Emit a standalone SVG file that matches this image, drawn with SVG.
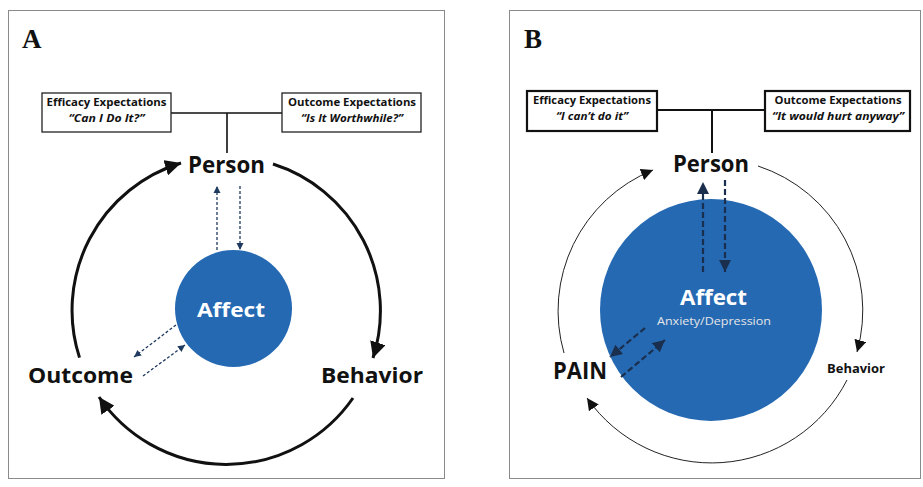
<svg xmlns="http://www.w3.org/2000/svg" width="923" height="487" viewBox="0 0 923 487">
<style>
.panel{fill:#fff;stroke:#8a8a8a;stroke-width:1}
.lbl{font-family:"Liberation Serif",serif;font-weight:bold;font-size:27px;fill:#111}
.box{fill:#fff;stroke:#222;stroke-width:1.3}
.boxB{fill:#fff;stroke:#111;stroke-width:2.2}
.bt{font-family:"Open Sans","Liberation Sans",sans-serif;font-weight:bold;font-size:10.5px;fill:#111;text-anchor:middle}
.bi{font-family:"Open Sans","Liberation Sans",sans-serif;font-weight:bold;font-style:italic;font-size:10.5px;fill:#111;text-anchor:middle}
.node{font-family:"Open Sans","Liberation Sans",sans-serif;font-weight:bold;fill:#111;text-anchor:middle}
.white{font-family:"Open Sans","Liberation Sans",sans-serif;font-weight:bold;fill:#fff;text-anchor:middle}
.link{stroke:#111;stroke-width:1.6;fill:none}
.arcA{stroke:#111;stroke-width:3;fill:none}
.arcB{stroke:#222;stroke-width:1;fill:none}
.dashA{stroke:#1f3a5f;stroke-width:1.3;stroke-dasharray:3 2;fill:none}
.dashB{stroke:#1a2f4d;stroke-width:2.2;stroke-dasharray:6 3;fill:none}
.affect{fill:#2569b3}
</style>
<defs>
<marker id="bigA" markerUnits="userSpaceOnUse" markerWidth="18" markerHeight="16" refX="16" refY="8" orient="auto"><path d="M0,0 L16,8 L0,16 Z" fill="#111"/></marker>
<marker id="bigB" markerUnits="userSpaceOnUse" markerWidth="14" markerHeight="12" refX="12" refY="6" orient="auto"><path d="M0,0 L12,6 L0,12 Z" fill="#111"/></marker>
<marker id="smA" markerUnits="userSpaceOnUse" markerWidth="8" markerHeight="8" refX="7" refY="4" orient="auto"><path d="M0,0.5 L7,4 L0,7.5 Z" fill="#1f3a5f"/></marker>
<marker id="smB" markerUnits="userSpaceOnUse" markerWidth="14" markerHeight="12" refX="12" refY="6" orient="auto"><path d="M0,0 L12,6 L0,12 Z" fill="#1a2f4d"/></marker>
</defs>

<rect class="panel" x="8.5" y="10.5" width="436" height="468"/>
<rect class="panel" x="509.5" y="10.5" width="411" height="468"/>
<text class="lbl" x="22" y="48">A</text>
<text class="lbl" x="524" y="48">B</text>

<g id="connectors">
<!-- Panel A -->
<path class="link" d="M171 113 H282 M227 113 V153"/>
<path class="arcA" d="M79.5 357.6 A154 154 0 0 1 181 163" marker-end="url(#bigA)"/>
<path class="arcA" d="M273 164 A154 154 0 0 1 373 358" marker-end="url(#bigA)"/>
<path class="arcA" d="M353 398 A154 154 0 0 1 99 397" marker-end="url(#bigA)"/>
<path class="dashA" d="M217 250 V186" marker-end="url(#smA)"/>
<path class="dashA" d="M240 186 V250" marker-end="url(#smA)"/>
<path class="dashA" d="M176 325 L134 357" marker-end="url(#smA)"/>
<path class="dashA" d="M143 376 L185 345" marker-end="url(#smA)"/>
<!-- Panel B -->
<path class="link" d="M657 110 H765 M712 110 V153" style="stroke-width:2"/>
<path class="arcB" d="M564 353 A152 152 0 0 1 653 170" marker-end="url(#bigB)"/>
<path class="arcB" d="M758 166 A152 152 0 0 1 857 352" marker-end="url(#bigB)"/>
<path class="arcB" d="M847 380 A152 152 0 0 1 587 398" marker-end="url(#bigB)"/>
</g>

<g id="efficacyA">
<rect class="box" x="42" y="93" width="129" height="39"/>
<text class="bt" x="106.5" y="106" textLength="120" lengthAdjust="spacingAndGlyphs">Efficacy Expectations</text>
<text class="bi" x="106.5" y="122" textLength="76" lengthAdjust="spacingAndGlyphs">“Can I Do It?”</text>
</g>
<g id="outcomeExpA">
<rect class="box" x="282" y="93" width="139" height="39"/>
<text class="bt" x="352" y="106" textLength="128" lengthAdjust="spacingAndGlyphs">Outcome Expectations</text>
<text class="bi" x="352" y="122" textLength="102" lengthAdjust="spacingAndGlyphs">“Is It Worthwhile?”</text>
</g>
<g id="personA"><text class="node" x="226.5" y="173" font-size="24" textLength="77" lengthAdjust="spacingAndGlyphs">Person</text></g>
<g id="outcomeA"><text class="node" x="80.5" y="383" font-size="21" textLength="105" lengthAdjust="spacingAndGlyphs">Outcome</text></g>
<g id="behaviorA"><text class="node" x="372" y="383" font-size="21" textLength="102" lengthAdjust="spacingAndGlyphs">Behavior</text></g>
<g id="affectA">
<circle class="affect" cx="233.5" cy="308.5" r="58.5"/>
<text class="white" x="231" y="317" font-size="20" textLength="68" lengthAdjust="spacingAndGlyphs">Affect</text>
</g>

<g id="affectB">
<circle class="affect" cx="711" cy="310" r="111"/>
<text class="white" x="713.5" y="305" font-size="21" textLength="67" lengthAdjust="spacingAndGlyphs">Affect</text>
<text class="white" x="714" y="325" font-size="11" style="font-weight:normal;fill:#e6e6e6" textLength="114" lengthAdjust="spacingAndGlyphs">Anxiety/Depression</text>
</g>
<g id="dashB">
<path class="dashB" d="M703 272 V182" marker-end="url(#smB)"/>
<path class="dashB" d="M725 180 V272" marker-end="url(#smB)"/>
<path class="dashB" d="M645 328 L610 357" marker-end="url(#smB)"/>
<path class="dashB" d="M621 377 L665 340" marker-end="url(#smB)"/>
</g>
<g id="efficacyB">
<rect class="boxB" x="527" y="91" width="130" height="40"/>
<text class="bt" x="592" y="104" textLength="118" lengthAdjust="spacingAndGlyphs">Efficacy Expectations</text>
<text class="bi" x="592" y="120" textLength="72" lengthAdjust="spacingAndGlyphs">“I can’t do it”</text>
</g>
<g id="outcomeExpB">
<rect class="boxB" x="765" y="91" width="145" height="40"/>
<text class="bt" x="838" y="104" textLength="127" lengthAdjust="spacingAndGlyphs">Outcome Expectations</text>
<text class="bi" x="838" y="120" textLength="132" lengthAdjust="spacingAndGlyphs">“It would hurt anyway”</text>
</g>
<g id="personB"><text class="node" x="711" y="172" font-size="24" textLength="76" lengthAdjust="spacingAndGlyphs">Person</text></g>
<g id="painB"><text class="node" x="580" y="379" font-size="23" textLength="54" lengthAdjust="spacingAndGlyphs">PAIN</text></g>
<g id="behaviorB"><text class="node" x="856" y="373" font-size="12" textLength="58" lengthAdjust="spacingAndGlyphs">Behavior</text></g>
</svg>
